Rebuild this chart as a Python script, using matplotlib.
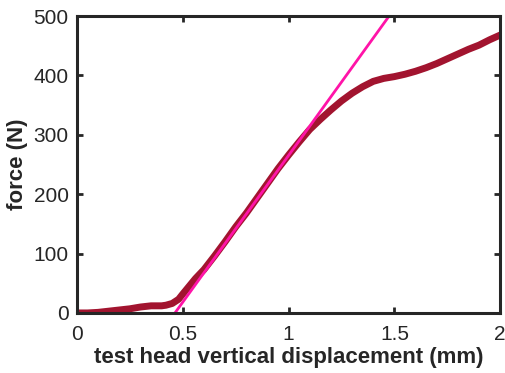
import matplotlib
matplotlib.use('Agg')
import matplotlib.pyplot as plt

# force vs. test head displacement
disp = [0, 0.05, 0.1, 0.15, 0.2, 0.25, 0.3, 0.35, 0.4, 0.42, 0.45, 0.48, 0.5,
        0.53, 0.56, 0.6, 0.65, 0.7, 0.75, 0.8, 0.85, 0.9, 0.95, 1.0, 1.05, 1.1,
        1.15, 1.2, 1.25, 1.3, 1.35, 1.4, 1.45, 1.5, 1.55, 1.6, 1.65, 1.7, 1.75,
        1.8, 1.85, 1.9, 1.95, 2.0]
force = [0, 0, 1, 3, 5, 7, 10, 12, 12, 13, 16, 23, 32, 45, 58, 73, 96, 120,
         145, 168, 193, 218, 243, 266, 288, 309, 326, 342, 357, 370, 381, 390,
         395, 398, 402, 407, 413, 420, 428, 436, 444, 451, 460, 468]

# linear fit of the elastic region
fit_x = [0.463, 1.475]
fit_y = [0, 500]

plt.rcParams['font.family'] = ['Liberation Sans', 'DejaVu Sans']

fig = plt.figure(figsize=(5.05, 3.73), dpi=100)
ax = fig.add_axes([0.1525, 0.161, 0.838, 0.796])

ax.plot(disp, force, color='#A2142F', lw=5, solid_capstyle='round',
        solid_joinstyle='round')
ax.plot(fit_x, fit_y, color='#FF14A8', lw=2)

ax.set_xlim(0, 2)
ax.set_ylim(0, 500)
ax.set_xticks([0, 0.5, 1, 1.5, 2])
ax.set_xticklabels(['0', '0.5', '1', '1.5', '2'])
ax.set_yticks([0, 100, 200, 300, 400, 500])
ax.tick_params(direction='in', top=True, right=True, length=4, width=2,
               labelsize=15, colors='#262626')
ax.tick_params(axis='x', pad=9)
ax.tick_params(axis='y', pad=6)
for s in ax.spines.values():
    s.set_linewidth(2.2)
    s.set_color('#262626')

ax.set_xlabel('test head vertical displacement (mm)', fontsize=16,
              fontweight='bold', color='#262626', labelpad=2)
ax.set_ylabel('force (N)', fontsize=16, fontweight='bold', color='#262626',
              labelpad=4)

fig.savefig('out.png', dpi=100)
